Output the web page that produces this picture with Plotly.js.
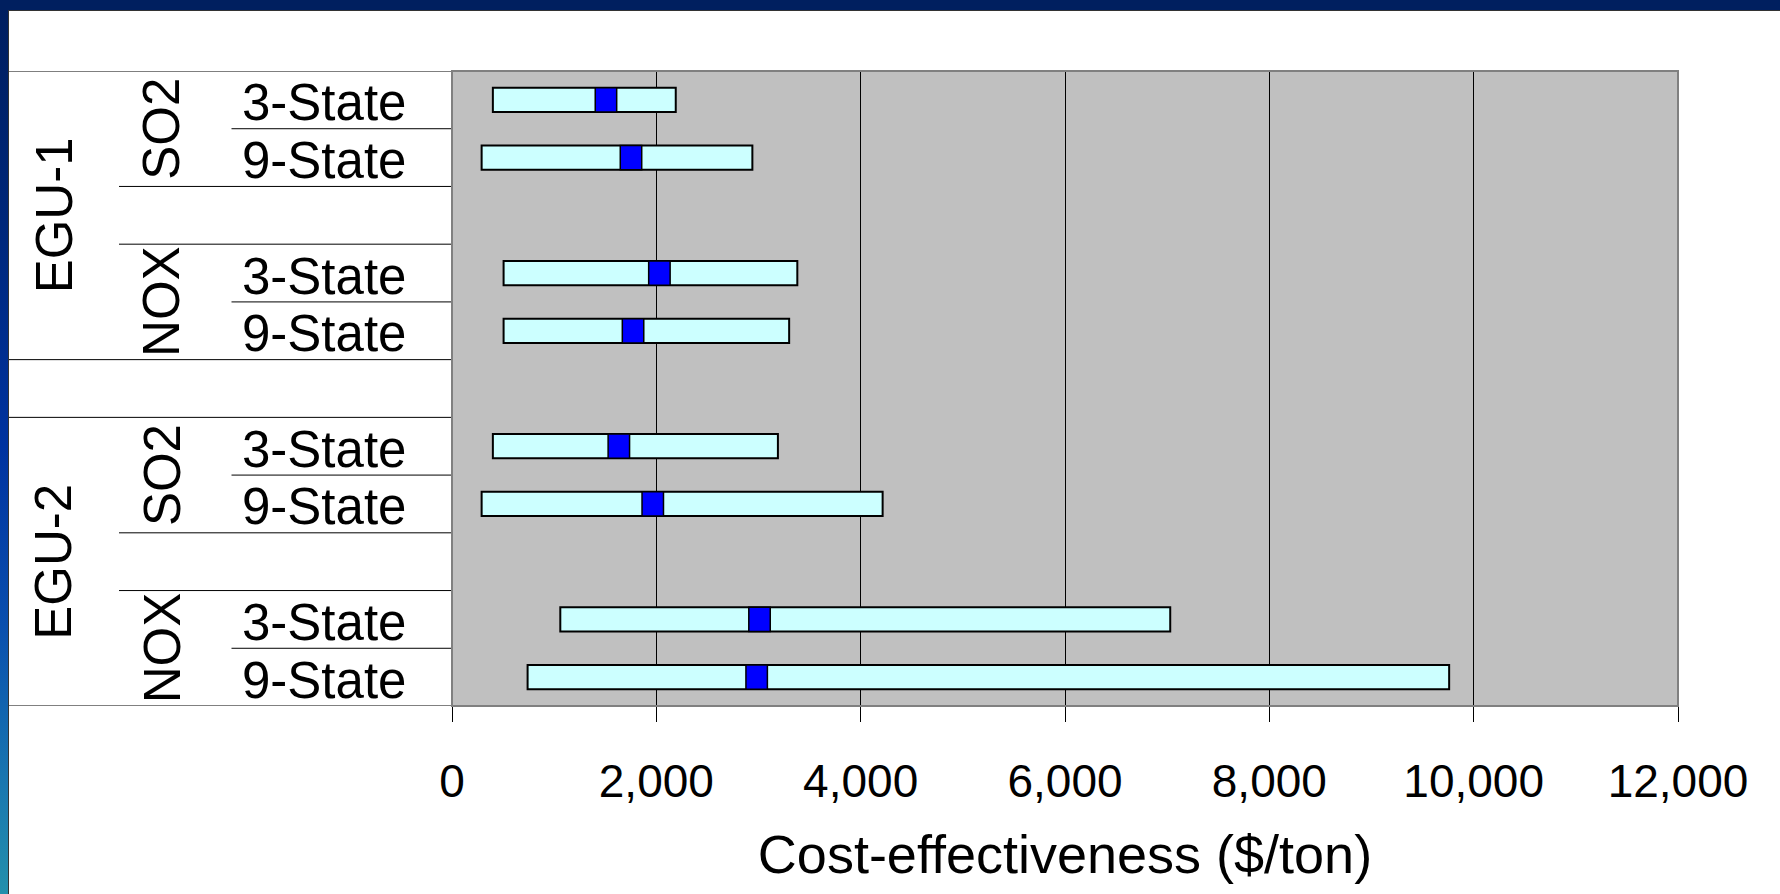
<!DOCTYPE html>
<html>
<head>
<meta charset="utf-8">
<script src="https://cdn.plot.ly/plotly-3.0.1.min.js"></script>
<style>
  html, body { margin: 0; padding: 0; width: 1780px; height: 894px; overflow: hidden; }
  body { background: linear-gradient(to bottom, #001e5e 0%, #00277a 25%, #0033a0 50%, #0a4fae 70%, #1a78b0 88%, #2490ac 100%); position: relative; }
  #topband { position: absolute; left: 0; top: 0; width: 1780px; height: 10px; background: #001f5f; }
  #frame { position: absolute; left: 8px; top: 10px; width: 1772px; height: 884px; background: #333; }
  #chart { position: absolute; left: 9px; top: 11px; width: 1771px; height: 883px; background: #fff; }
</style>
</head>
<body>
<div id="topband"></div>
<div id="frame"></div>
<div id="chart"></div>
<script>
// ---- data ----
const plants     = ['EGU-1', 'EGU-1', 'EGU-1', 'EGU-1', 'EGU-2', 'EGU-2', 'EGU-2', 'EGU-2'];
const pollutants = ['SO2', 'SO2', 'NOX', 'NOX', 'SO2', 'SO2', 'NOX', 'NOX'];
const scopes     = ['3-State', '9-State', '3-State', '9-State', '3-State', '9-State', '3-State', '9-State'];
const lowCost    = [400, 290, 505, 505, 400, 290, 1060, 740];
const midCost    = [1507, 1752, 2030, 1772, 1633, 1965, 3010, 2982];
const highCost   = [2190, 2940, 3380, 3300, 3190, 4215, 7030, 9760];
const xTickVals  = [0, 2000, 4000, 6000, 8000, 10000, 12000];
const xTickText  = ['0', '2,000', '4,000', '6,000', '8,000', '10,000', '12,000'];
const xTitle     = 'Cost-effectiveness ($/ton)';

// ---- style constants ----
const FONT = '"Liberation Sans", Arial, Helvetica, sans-serif';
const MARK_HALF = 105;          // half width of the central marker, $/ton
const W = 1771, H = 883;
const M = { l: 443, r: 102, t: 60, b: 188 };
const plotW = W - M.l - M.r;
const px2paper = px => (px - M.l) / plotW;

// ---- build row layout (gaps between pollutant groups and plants) ----
const rowOf = [];
const rowInfo = [];   // per row: {type:'data', i} or {type:'gap', level:'pol'|'plant'}
let r = 0;
for (let i = 0; i < plants.length; i++) {
  if (i > 0) {
    if (plants[i] !== plants[i - 1]) { rowInfo.push({ type: 'gap', level: 'plant' }); r++; }
    else if (pollutants[i] !== pollutants[i - 1]) { rowInfo.push({ type: 'gap', level: 'pol' }); r++; }
  }
  rowOf.push(r); rowInfo.push({ type: 'data', i: i }); r++;
}
const nRows = r;

// ---- traces ----
const rangeTrace = {
  type: 'bar', orientation: 'h',
  y: rowOf,
  base: lowCost,
  x: highCost.map((h, i) => h - lowCost[i]),
  width: 0.42,
  marker: { color: '#ccffff', line: { color: '#000000', width: 2 } },
  hoverinfo: 'skip', showlegend: false
};
const midTrace = {
  type: 'bar', orientation: 'h',
  y: rowOf,
  base: midCost.map(m => m - MARK_HALF),
  x: midCost.map(() => 2 * MARK_HALF),
  width: 0.42,
  marker: { color: '#0000ff', line: { color: '#000000', width: 1.5 } },
  hoverinfo: 'skip', showlegend: false
};

// ---- category label lines ----
const X_FULL = px2paper(0), X_MID = px2paper(110), X_INNER = px2paper(222.5);
const shapes = [];
for (let k = 0; k <= nRows; k++) {
  const a = rowInfo[k - 1], b = rowInfo[k];
  let x0;
  if (!a || !b) x0 = X_FULL;
  else if ((a.type === 'gap' && a.level === 'plant') || (b.type === 'gap' && b.level === 'plant')) x0 = X_FULL;
  else if (a.type === 'gap' || b.type === 'gap') x0 = X_MID;
  else x0 = X_INNER;
  shapes.push({ type: 'line', xref: 'paper', yref: 'y', x0: x0, x1: 0, y0: k - 0.5, y1: k - 0.5,
                line: { color: '#000000', width: 1 }, layer: 'above' });
}
// plot frame
shapes.push({ type: 'rect', xref: 'paper', yref: 'paper', x0: 0, x1: 1, y0: 0, y1: 1,
              line: { color: '#808080', width: 2 }, layer: 'above' });

// ---- category label annotations ----
const annotations = [];
const labelFont = { family: FONT, size: 51, color: '#000000' };
for (let i = 0; i < scopes.length; i++) {
  annotations.push({ xref: 'paper', yref: 'y', x: px2paper(315), y: rowOf[i], text: scopes[i],
                     showarrow: false, xanchor: 'center', yanchor: 'middle', yshift: -3, font: labelFont });
}
function groupSpans(keyFn) {
  const spans = [];
  for (let i = 0; i < plants.length; i++) {
    const key = keyFn(i);
    const last = spans[spans.length - 1];
    if (last && last.key === key) last.end = rowOf[i];
    else spans.push({ key: key, label: keyFn.label(i), start: rowOf[i], end: rowOf[i] });
  }
  return spans;
}
const polKey = i => plants[i] + '|' + pollutants[i]; polKey.label = i => pollutants[i];
const plantKey = i => plants[i]; plantKey.label = i => plants[i];
groupSpans(polKey).forEach(s => annotations.push({
  xref: 'paper', yref: 'y', x: px2paper(153), y: (s.start + s.end) / 2, text: s.label,
  textangle: -90, showarrow: false, xanchor: 'center', yanchor: 'middle', font: labelFont }));
groupSpans(plantKey).forEach(s => annotations.push({
  xref: 'paper', yref: 'y', x: px2paper(45), y: (s.start + s.end) / 2, text: s.label,
  textangle: -90, showarrow: false, xanchor: 'center', yanchor: 'middle', font: labelFont }));

const layout = {
  width: W, height: H,
  margin: M,
  paper_bgcolor: '#ffffff',
  plot_bgcolor: '#c0c0c0',
  barmode: 'overlay',
  font: { family: FONT, color: '#000000' },
  xaxis: {
    range: [0, 12000],
    tickvals: xTickVals, ticktext: xTickText,
    ticks: 'outside', ticklen: 15, tickwidth: 1, tickcolor: '#000000',
    ticklabelstandoff: 20,
    tickfont: { family: FONT, size: 46, color: '#000000' },
    showgrid: true, gridcolor: '#000000', gridwidth: 1,
    zeroline: false, showline: false,
    title: { text: xTitle, font: { family: FONT, size: 54, color: '#000000' }, standoff: 28 },
    fixedrange: true
  },
  yaxis: {
    range: [nRows - 0.5, -0.5],
    showticklabels: false, ticks: '', showgrid: false, zeroline: false, showline: false,
    fixedrange: true
  },
  shapes: shapes,
  annotations: annotations
};

Plotly.newPlot('chart', [rangeTrace, midTrace], layout, { staticPlot: true, displayModeBar: false });
</script>
</body>
</html>
